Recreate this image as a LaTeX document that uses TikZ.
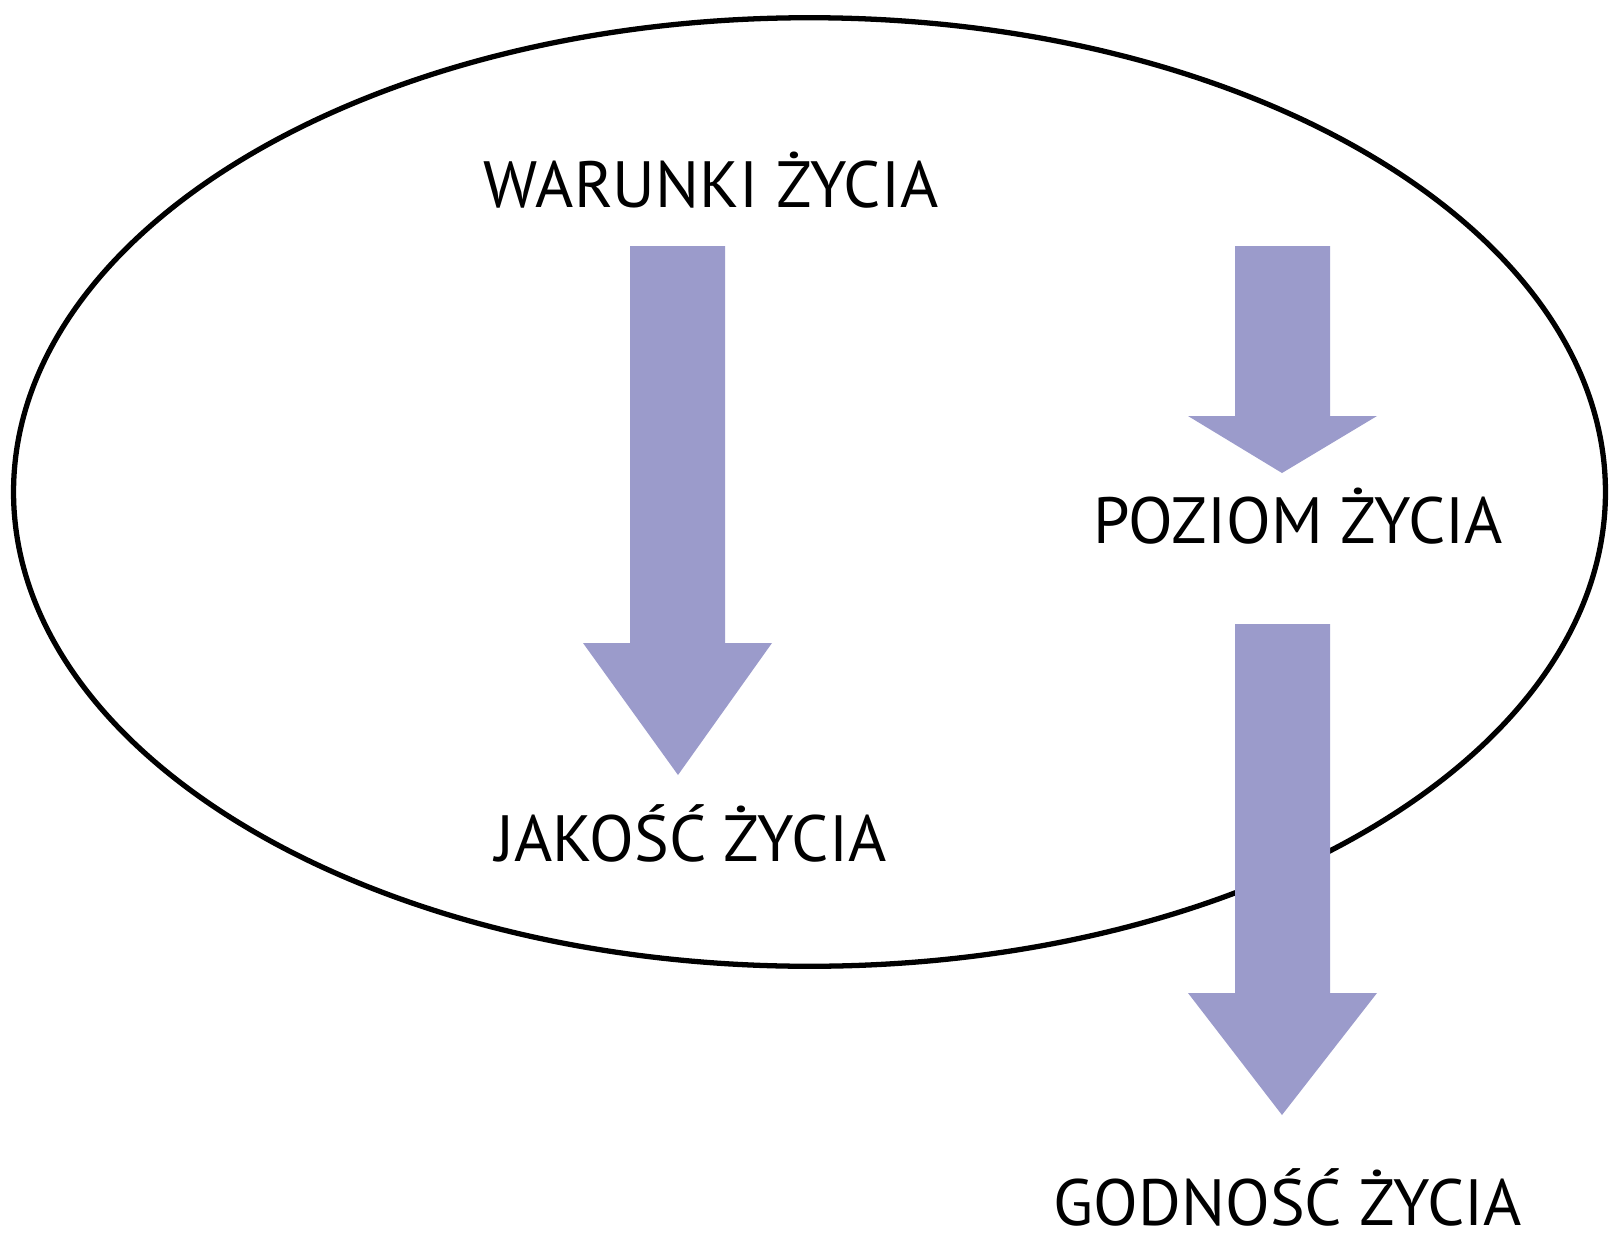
\documentclass[tikz,border=0pt]{standalone}
\usepackage{fontspec}
\setmainfont{PT Sans}
\usetikzlibrary{positioning}

\definecolor{lila}{HTML}{9B9BCB}

\begin{document}
\begin{tikzpicture}[x=0.01cm, y=-0.01cm,
        every node/.style={font=\fontsize{18.6}{20}\selectfont, anchor=base, inner sep=0pt},
        strzalka/.style={fill=lila, draw=none}]
            \useasboundingbox (0,0) rectangle (1611,1239);

            \draw[line width=1.5pt] (809.5,492) ellipse [x radius=7.955cm, y radius=4.74cm];

            \node (warunki) at (711, 207)   {WARUNKI ŻYCIA};
            \node (poziom)  at (1298, 543)  {POZIOM ŻYCIA};
            \node (jakosc)  at (691, 861)   {JAKOŚĆ ŻYCIA};
            \node (godnosc) at (1288, 1225) {GODNOŚĆ ŻYCIA};

            \begin{scope}[strzalka]
                \fill (630,246) -- (725,246) -- (725,643) -- (772,643) -- (678,775) -- (583,643) -- (630,643) -- cycle;
                \fill (1235,246) -- (1330,246) -- (1330,416) -- (1377,416) -- (1282,473) -- (1188,416) -- (1235,416) -- cycle;
                \fill (1235,624) -- (1330,624) -- (1330,993) -- (1377,993) -- (1282,1115) -- (1188,993) -- (1235,993) -- cycle;
            \end{scope}
        \end{tikzpicture}
\end{document}
